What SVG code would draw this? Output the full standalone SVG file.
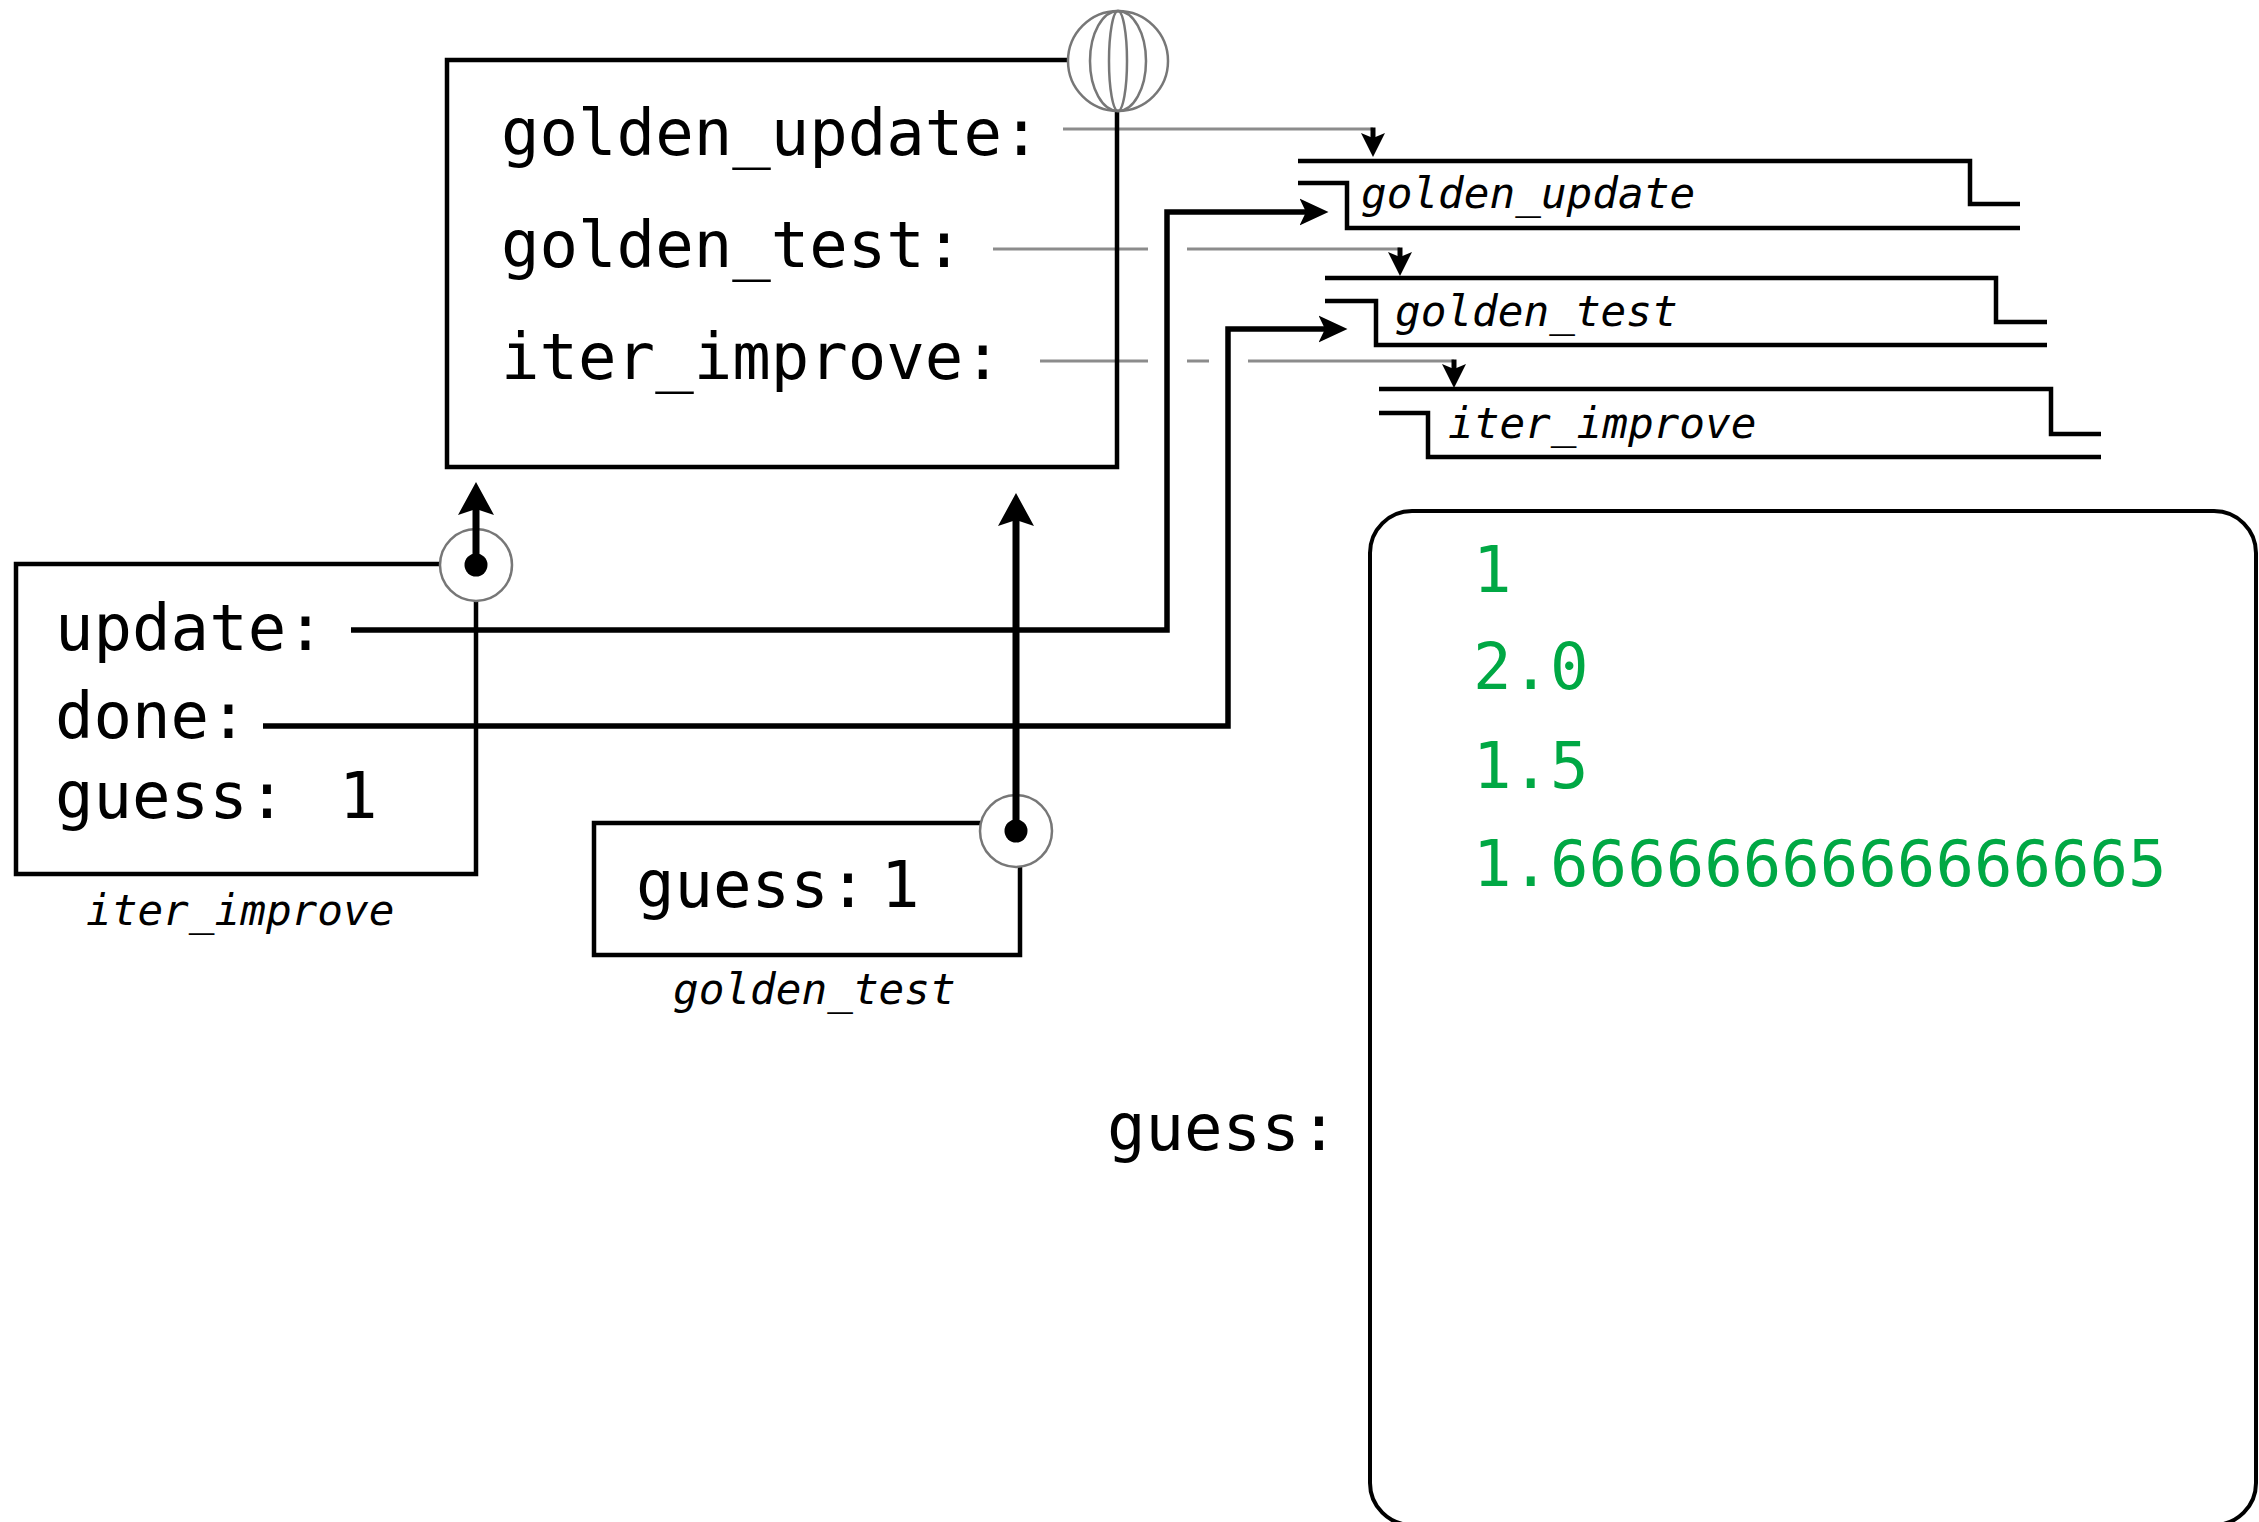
<svg xmlns="http://www.w3.org/2000/svg" width="2259" height="1522" viewBox="0 0 2259 1522">
<style>
text{font-family:"DejaVu Sans Mono","Liberation Mono",monospace;fill:#000}
.lbl{font-size:64px}
.fn{font-size:42.7px;font-style:italic}
.val{font-size:64px;fill:#00a844}
.frame{fill:none;stroke:#000;stroke-width:4.5;stroke-linejoin:miter}
.gray{fill:none;stroke:#8c8c8c;stroke-width:3}
.ring{fill:#fff;stroke:#777;stroke-width:2.5}
.conn{fill:none;stroke:#000;stroke-width:5.5}
.thick{fill:none;stroke:#000;stroke-width:7}
.stub{fill:none;stroke:#000;stroke-width:5}
</style>
<defs>
<marker id="ahBig" markerUnits="userSpaceOnUse" markerWidth="40" markerHeight="40" viewBox="0 -20 34 40" refX="6" refY="0" orient="auto"><path d="M33,0 L0,-18 L6,0 L0,18 Z" fill="#000"/></marker>
<marker id="ahMid" markerUnits="userSpaceOnUse" markerWidth="30" markerHeight="30" viewBox="0 -14 28 28" refX="6" refY="0" orient="auto"><path d="M27,0 L0,-12.5 L6,0 L0,12.5 Z" fill="#000"/></marker>
<marker id="ahSmall" markerUnits="userSpaceOnUse" markerWidth="26" markerHeight="26" viewBox="0 -13 25 26" refX="5" refY="0" orient="auto"><path d="M24,0 L0,-12 L5,0 L0,12 Z" fill="#000"/></marker>
</defs>

<g id="connectors">
<g id="gray-bindings">
<path class="gray" d="M1063,129 H1373"/>
<path class="stub" d="M1373,127.5 V138" marker-end="url(#ahSmall)"/>
<path class="gray" d="M993,249 H1148 M1187,249 H1400"/>
<path class="stub" d="M1400,247.5 V257" marker-end="url(#ahSmall)"/>
<path class="gray" d="M1040,361 H1148 M1187,361 H1209 M1248,361 H1454"/>
<path class="stub" d="M1454,359.5 V369" marker-end="url(#ahSmall)"/>
</g>
</g>

<g id="global-frame">
<path class="frame" d="M1068,60 H447 V467 H1117 V110"/>
<g id="globe">
<circle class="ring" cx="1118" cy="61" r="50"/>
<ellipse cx="1118" cy="61" rx="28" ry="50" fill="none" stroke="#777" stroke-width="2.5"/>
<ellipse cx="1118" cy="61" rx="9" ry="50" fill="none" stroke="#777" stroke-width="2.5"/>
</g>
<text class="lbl" x="501" y="155">golden_update:</text>
<text class="lbl" x="501" y="267">golden_test:</text>
<text class="lbl" x="501" y="379">iter_improve:</text>
</g>

<g id="fn-golden_update">
<path class="frame" d="M1298,161 H1970 V204 H2020"/>
<path class="frame" d="M1298,183 H1347 V228 H2020"/>
<text class="fn" x="1361" y="208">golden_update</text>
</g>
<g id="fn-golden_test">
<path class="frame" d="M1325,278 H1996 V322 H2047"/>
<path class="frame" d="M1325,301 H1376 V345 H2047"/>
<text class="fn" x="1395" y="326">golden_test</text>
</g>
<g id="fn-iter_improve">
<path class="frame" d="M1379,389 H2051 V434 H2101"/>
<path class="frame" d="M1379,413 H1428 V457 H2101"/>
<text class="fn" x="1448" y="438">iter_improve</text>
</g>

<g id="frame-iter_improve">
<path class="frame" d="M440,564 H16 V874 H476 V600"/>
<circle class="ring" cx="476" cy="565" r="36"/>
<text class="lbl" x="55" y="650">update:</text>
<text class="lbl" x="55" y="738">done:</text>
<text class="lbl" x="55" y="818">guess:</text>
<text class="lbl" x="339" y="818">1</text>
<text class="fn" x="86" y="925">iter_improve</text>
</g>

<g id="frame-golden_test">
<path class="frame" d="M981,823 H594 V955 H1020 V866"/>
<circle class="ring" cx="1016" cy="831" r="36"/>
<text class="lbl" x="636" y="907">guess:</text>
<text class="lbl" x="881" y="907">1</text>
<text class="fn" x="673" y="1004">golden_test</text>
</g>

<g id="connectors-black">
<path class="conn" d="M351,630 H1167 V212 H1306" marker-end="url(#ahMid)"/>
<path class="conn" d="M263,726 H1228 V329 H1325" marker-end="url(#ahMid)"/>
<path class="thick" d="M476,565 V509" marker-end="url(#ahBig)"/>
<circle cx="476" cy="565" r="11.5" fill="#000"/>
<path class="thick" d="M1016,831 V520" marker-end="url(#ahBig)"/>
<circle cx="1016" cy="831" r="11.5" fill="#000"/>
</g>

<g id="output-box">
<rect x="1370" y="511" width="886" height="1014" rx="42" ry="42" fill="none" stroke="#000" stroke-width="4"/>
<text class="val" x="1473" y="592">1</text>
<text class="val" x="1473" y="689">2.0</text>
<text class="val" x="1473" y="788">1.5</text>
<text class="val" x="1473" y="886">1.6666666666666665</text>
<text class="lbl" x="1107" y="1150">guess:</text>
</g>
</svg>
